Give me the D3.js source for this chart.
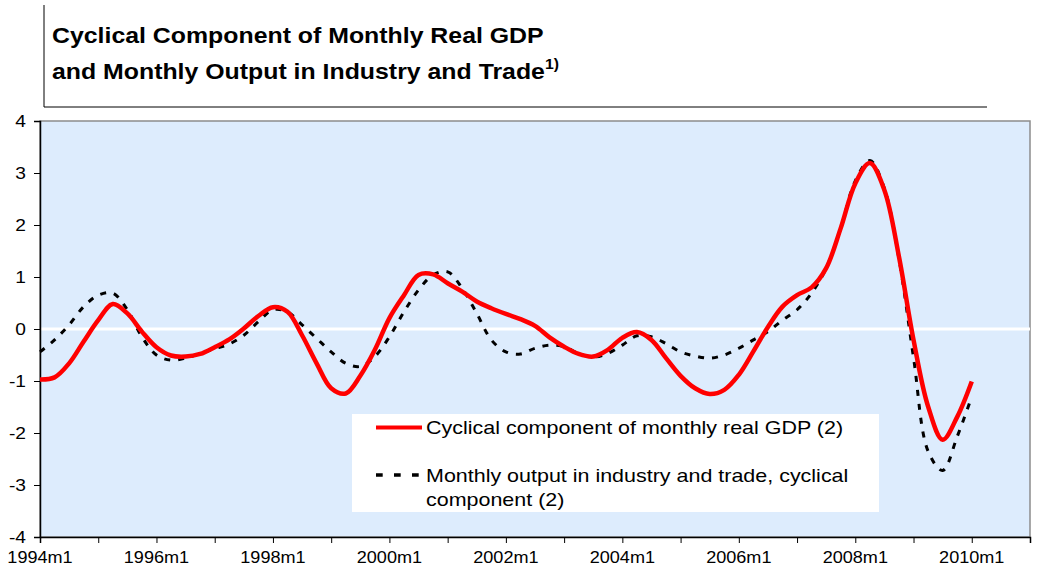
<!DOCTYPE html>
<html>
<head>
<meta charset="utf-8">
<script src="https://cdn.jsdelivr.net/npm/d3@7"></script>
<style>
  body { margin: 0; background: #fff; }
  svg text { font-family: "Liberation Sans", Arimo, Arial, sans-serif; }
</style>
</head>
<body>
<svg id="chart" width="1059" height="576"></svg>
<script>
// months since 1994m1, sampled quarterly
const months = d3.range(0, 193, 3);

// cyclical component of monthly real GDP
const gdpValues = [
  -0.97, -0.93, -0.66, -0.24, 0.17, 0.48, 0.30, -0.05, -0.35, -0.51, -0.53,
  -0.48, -0.35, -0.20, 0.01, 0.25, 0.42, 0.33, -0.12, -0.66, -1.14, -1.24,
  -0.90, -0.40, 0.21, 0.65, 1.04, 1.05, 0.88, 0.72, 0.53, 0.40, 0.29,
  0.19, 0.06, -0.16, -0.34, -0.48, -0.53, -0.40, -0.17, -0.06, -0.21, -0.56,
  -0.90, -1.14, -1.25, -1.17, -0.88, -0.43, 0.04, 0.43, 0.65, 0.80, 1.17,
  1.94, 2.80, 3.19, 2.67, 1.39, -0.21, -1.49, -2.13, -1.69, -1.01
];

// monthly output in industry and trade, cyclical component
const outputValues = [
  -0.44, -0.21, 0.08, 0.43, 0.65, 0.69, 0.37, -0.15, -0.50, -0.60, -0.56,
  -0.47, -0.38, -0.29, -0.12, 0.14, 0.37, 0.33, 0.08, -0.18, -0.44, -0.66,
  -0.72, -0.53, -0.15, 0.33, 0.75, 1.04, 1.10, 0.78, 0.30, -0.21, -0.44,
  -0.48, -0.37, -0.31, -0.34, -0.47, -0.54, -0.47, -0.31, -0.13, -0.15, -0.28,
  -0.44, -0.52, -0.56, -0.50, -0.37, -0.21, -0.05, 0.17, 0.37, 0.69, 1.17,
  1.94, 2.85, 3.24, 2.70, 1.35, -0.55, -2.35, -2.72, -2.07, -1.30
];

const yTicks = [-4, -3, -2, -1, 0, 1, 2, 3, 4];
const xTickMonths = d3.range(0, 205, 12);
const xLabels = ['1994m1', '1996m1', '1998m1', '2000m1', '2002m1', '2004m1', '2006m1', '2008m1', '2010m1'];

const svg = d3.select('#chart');

const x = d3.scaleLinear().domain([0, 204]).range([40, 1030]);
const y = d3.scaleLinear().domain([-4, 4]).range([537, 121]);

// the original picture is a bit wider than tall, so text is stretched sideways
const stretchX = 1.13;
function stretch(sel) {
  sel.each(function () {
    const t = d3.select(this);
    const tx = +t.attr('x') || 0;
    const ty = +t.attr('y') || 0;
    t.attr('x', 0).attr('y', 0)
      .attr('transform', `translate(${tx},${ty}) scale(${stretchX},1)`);
  });
}

// title box
svg.append('line').attr('x1', 44).attr('x2', 44).attr('y1', 5).attr('y2', 107)
  .attr('stroke', '#000').attr('stroke-width', 1);
svg.append('line').attr('x1', 44).attr('x2', 987).attr('y1', 107).attr('y2', 107)
  .attr('stroke', '#000').attr('stroke-width', 1);

const title = svg.append('g').attr('font-weight', 'bold').attr('font-size', 22).attr('fill', '#000');
title.append('text').attr('x', 52).attr('y', 43).text('Cyclical Component of Monthly Real GDP');
const t2 = title.append('text').attr('x', 52).attr('y', 79);
t2.append('tspan').text('and Monthly Output in Industry and Trade');
t2.append('tspan').attr('font-size', 14).attr('dy', -10).text('1)');
stretch(title.selectAll('text'));

// plot area
svg.append('rect')
  .attr('x', x(0)).attr('y', y(4))
  .attr('width', x(204) - x(0)).attr('height', y(-4) - y(4))
  .attr('fill', '#ddecfd')
  .attr('stroke', '#8c8c8c').attr('stroke-width', 1.5);

// zero line
svg.append('line')
  .attr('x1', x(0)).attr('x2', x(204))
  .attr('y1', y(0)).attr('y2', y(0))
  .attr('stroke', '#fff').attr('stroke-width', 3);

// axes
const yAxis = svg.append('g')
  .attr('transform', `translate(${x(0)},0)`)
  .call(d3.axisLeft(y).tickValues(yTicks).tickSize(6).tickPadding(8).tickFormat(d => String(d)));
yAxis.attr('font-family', null);
yAxis.select('.domain').attr('stroke', '#000').attr('stroke-width', 1.5);
yAxis.selectAll('.tick text').attr('font-size', 17).attr('fill', '#000').attr('y', 0).attr('dy', '0.35em');
stretch(yAxis.selectAll('.tick text'));

const xAxis = svg.append('g')
  .attr('transform', `translate(0,${y(-4)})`)
  .call(d3.axisBottom(x).tickValues(xTickMonths).tickSize(6).tickFormat(''));
xAxis.select('.domain').attr('stroke', '#000').attr('stroke-width', 1.5);

const xText = svg.append('g').selectAll('text')
  .data(xLabels)
  .join('text')
  .attr('x', (d, i) => x(i * 24))
  .attr('y', 563)
  .attr('text-anchor', 'middle')
  .attr('font-size', 16)
  .attr('fill', '#000')
  .text(d => d);
stretch(xText);

// series
const line = d3.line()
  .x(d => x(d[0]))
  .y(d => y(d[1]))
  .curve(d3.curveCatmullRom.alpha(0.5));

svg.append('path')
  .datum(months.map((m, i) => [m, outputValues[i]]))
  .attr('d', line)
  .attr('fill', 'none')
  .attr('stroke', '#000')
  .attr('stroke-width', 3)
  .attr('stroke-dasharray', '6,8');

svg.append('path')
  .datum(months.map((m, i) => [m, gdpValues[i]]))
  .attr('d', line)
  .attr('fill', 'none')
  .attr('stroke', '#ff0000')
  .attr('stroke-width', 4.5);

// legend
const legend = svg.append('g');
legend.append('rect')
  .attr('x', 352).attr('y', 414).attr('width', 527).attr('height', 98)
  .attr('fill', '#fff');
legend.append('line')
  .attr('x1', 376).attr('x2', 422).attr('y1', 427.5).attr('y2', 427.5)
  .attr('stroke', '#ff0000').attr('stroke-width', 4);
legend.append('line')
  .attr('x1', 376).attr('x2', 420).attr('y1', 475).attr('y2', 475)
  .attr('stroke', '#000').attr('stroke-width', 3.5)
  .attr('stroke-dasharray', '6.7,11.3');

const legendText = legend.append('g').attr('font-size', 19).attr('fill', '#000');
legendText.append('text').attr('x', 426).attr('y', 434).text('Cyclical component of monthly real GDP (2)');
legendText.append('text').attr('x', 426).attr('y', 482).text('Monthly output in industry and trade, cyclical');
legendText.append('text').attr('x', 426).attr('y', 506).text('component (2)');
stretch(legendText.selectAll('text'));
</script>
</body>
</html>
